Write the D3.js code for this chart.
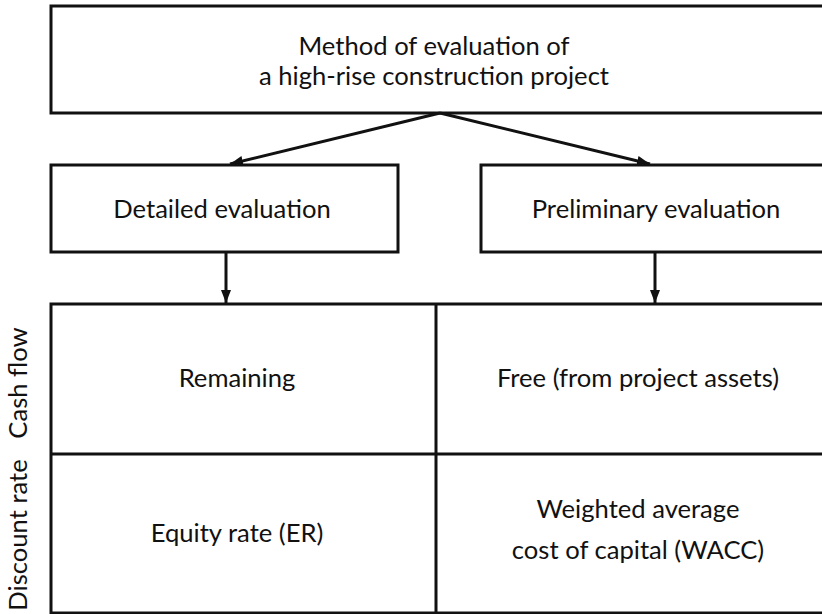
<!DOCTYPE html>
<html>
<head>
<meta charset="utf-8">
<script src="https://cdn.jsdelivr.net/npm/d3@7"></script>
<style>
  html, body { margin: 0; padding: 0; background: #fff; }
  svg { display: block; }
  .box { fill: none; stroke: #111; stroke-width: 3; }
  .link { stroke: #111; stroke-width: 3; fill: none; }
  .label { font-family: Lato, "Open Sans", sans-serif; font-size: 25.6px; fill: #111; }
</style>
</head>
<body>
<svg id="chart" width="822" height="614"></svg>
<script>
// labels of the diagram
const topLabel = ["Method of evaluation of", "a high-rise construction project"];
const branchLabels = ["Detailed evaluation", "Preliminary evaluation"];
const rowLabels = ["Cash flow", "Discount rate"];
const cellLabels = [
    ["Remaining"],
    ["Free (from project assets)"],
    ["Equity rate (ER)"],
    ["Weighted average", "cost of capital (WACC)"]
];

const svg = d3.select("#chart");

// layout
const topBox = { x0: 51, x1: 836, y0: 6, y1: 113, cx: 434, baseline: 55, lh: 30 };
const branchBoxes = [
    { x0: 51, x1: 398, y0: 165, y1: 252, cx: 222, tip: 230, down: 226 },
    { x0: 481, x1: 836, y0: 165, y1: 252, cx: 656, tip: 650, down: 655 }
];
const colX = [51, 436, 838];
const rowY = [304, 454, 613];
const cellCx = [237, 638];
const apex = { x: 440, y: 113 };

// arrow marker
svg.append("defs").append("marker")
    .attr("id", "arrow")
    .attr("markerUnits", "userSpaceOnUse")
    .attr("viewBox", "0 0 13 10")
    .attr("refX", 13)
    .attr("refY", 5)
    .attr("markerWidth", 13)
    .attr("markerHeight", 10)
    .attr("orient", "auto")
    .append("path")
    .attr("d", "M0,0 L13,5 L0,10 Z")
    .attr("fill", "#111");

// top box
svg.append("rect")
    .attr("class", "box")
    .attr("x", topBox.x0).attr("y", topBox.y0)
    .attr("width", topBox.x1 - topBox.x0)
    .attr("height", topBox.y1 - topBox.y0);

svg.append("g").selectAll("text")
    .data(topLabel)
    .enter().append("text")
    .attr("class", "label")
    .attr("text-anchor", "middle")
    .attr("x", topBox.cx)
    .attr("y", (d, i) => topBox.baseline + i * topBox.lh)
    .text(d => d);

// diagonal arrows
svg.append("g").selectAll("line")
    .data(branchBoxes)
    .enter().append("line")
    .attr("class", "link")
    .attr("x1", apex.x).attr("y1", apex.y)
    .attr("x2", d => d.tip).attr("y2", d => d.y0 - 1)
    .attr("marker-end", "url(#arrow)");

// branch boxes
const branch = svg.append("g").selectAll("g")
    .data(branchBoxes)
    .enter().append("g");

branch.append("rect")
    .attr("class", "box")
    .attr("x", d => d.x0).attr("y", d => d.y0)
    .attr("width", d => d.x1 - d.x0)
    .attr("height", d => d.y1 - d.y0);

branch.append("text")
    .attr("class", "label")
    .attr("text-anchor", "middle")
    .attr("x", d => d.cx)
    .attr("y", 218)
    .text((d, i) => branchLabels[i]);

branch.append("line")
    .attr("class", "link")
    .attr("x1", d => d.down).attr("y1", d => d.y1)
    .attr("x2", d => d.down).attr("y2", rowY[0] - 1)
    .attr("marker-end", "url(#arrow)");

// table
const table = svg.append("g");
table.append("rect")
    .attr("class", "box")
    .attr("x", colX[0]).attr("y", rowY[0])
    .attr("width", colX[2] - colX[0])
    .attr("height", rowY[2] - rowY[0]);
table.append("line").attr("class", "link")
    .attr("x1", colX[1]).attr("x2", colX[1])
    .attr("y1", rowY[0]).attr("y2", rowY[2]);
table.append("line").attr("class", "link")
    .attr("x1", colX[0]).attr("x2", colX[2])
    .attr("y1", rowY[1]).attr("y2", rowY[1]);

// cell texts
const cells = table.selectAll("g.cell")
    .data(cellLabels)
    .enter().append("g")
    .attr("class", "cell");

cells.each(function (lines, i) {
    const col = i % 2, row = Math.floor(i / 2);
    const cy = (rowY[row] + rowY[row + 1]) / 2;
    const n = lines.length;
    const lh = 41;
    d3.select(this).selectAll("text")
        .data(lines)
        .enter().append("text")
        .attr("class", "label")
        .attr("text-anchor", "middle")
        .attr("x", cellCx[col])
        .attr("y", (d, j) => cy + 8 - (n - 1) * 3.5 + (j - (n - 1) / 2) * lh)
        .text(d => d);
});

// row labels, rotated
svg.append("g").selectAll("text")
    .data(rowLabels)
    .enter().append("text")
    .attr("class", "label")
    .attr("text-anchor", "middle")
    .attr("transform", (d, i) => `translate(27,${i === 0 ? 383 : 535}) rotate(-90)`)
    .text(d => d);
</script>
</body>
</html>
